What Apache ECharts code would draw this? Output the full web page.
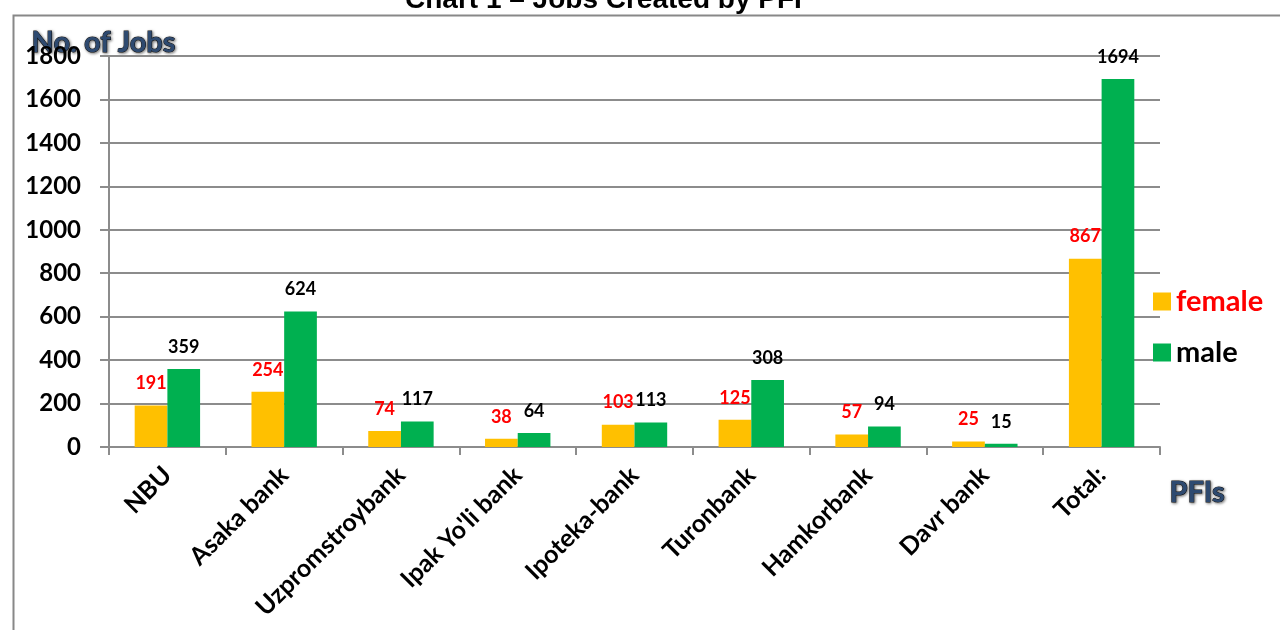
<!DOCTYPE html>
<html>
<head>
<meta charset="utf-8">
<script src="https://cdn.jsdelivr.net/npm/echarts@6/dist/echarts.min.js"></script>
<style>
  html, body { margin: 0; padding: 0; background: #fff; }
  #chart { width: 1280px; height: 630px; }
</style>
</head>
<body>
<div id="chart"></div>
<script>
// data
var categories = ["NBU", "Asaka bank", "Uzpromstroybank", "Ipak Yo'li bank", "Ipoteka-bank", "Turonbank", "Hamkorbank", "Davr bank", "Total:"];
var female = [191, 254, 74, 38, 103, 125, 57, 25, 867];
var male = [359, 624, 117, 64, 113, 308, 94, 15, 1694];

var myChart = echarts.init(document.getElementById("chart"));
var font = "Lato, 'Open Sans', sans-serif";

var option = {
    animation: false,
    title: {
        text: "Chart 1 – Jobs Created by PFI",
        left: 400,
        top: -19,
        textStyle: { fontFamily: "'Liberation Sans', Arial", fontSize: 28, fontWeight: 'bold', color: '#000' }
    },
    graphic: [
        {
            type: 'rect', left: 11, top: 13, z: -1,
            shape: { width: 1300, height: 640 },
            style: { fill: 'none', stroke: '#888', lineWidth: 2 }
        },
        {
            type: 'text', left: 31, top: 28,
            style: {
                text: 'No. of Jobs', fontFamily: font, fontSize: 29, fontWeight: 'bold',
                fill: '#2E4A70', stroke: '#111', lineWidth: 1,
                textShadowColor: 'rgba(0,0,0,0.5)', textShadowBlur: 3, textShadowOffsetX: 1, textShadowOffsetY: 1
            }
        },
        {
            type: 'text', left: 1169, top: 478,
            style: {
                text: 'PFIs', fontFamily: font, fontSize: 29, fontWeight: 'bold',
                fill: '#2E4A70', stroke: '#111', lineWidth: 1,
                textShadowColor: 'rgba(0,0,0,0.5)', textShadowBlur: 3, textShadowOffsetX: 1, textShadowOffsetY: 1
            }
        }
    ],
    legend: {
        orient: 'vertical',
        left: 1148,
        top: 282,
        itemWidth: 18,
        itemHeight: 18,
        itemGap: 22,
        icon: 'rect',
        textStyle: { fontFamily: font, fontSize: 29, fontWeight: 'bold', color: '#000' },
        data: [
            { name: 'female', textStyle: { color: '#FF0000' } },
            { name: 'male' }
        ]
    },
    grid: { left: 109, right: 120, top: 56, bottom: 183, containLabel: false },
    xAxis: {
        type: 'category',
        data: categories,
        axisLine: { lineStyle: { color: '#8c8c8c', width: 2 } },
        axisTick: { show: true, length: 8, lineStyle: { color: '#8c8c8c', width: 2 } },
        axisLabel: {
            rotate: 45, margin: 24, interval: 0,
            fontFamily: font, fontSize: 25, fontWeight: 'bold', color: '#000'
        }
    },
    yAxis: {
        type: 'value',
        min: 0, max: 1800, interval: 200,
        axisLine: { show: true, lineStyle: { color: '#8c8c8c', width: 2 } },
        axisTick: { show: true, length: 9, lineStyle: { color: '#8c8c8c', width: 2 } },
        splitLine: { lineStyle: { color: '#8c8c8c', width: 2 } },
        axisLabel: {
            margin: 28, fontFamily: font, fontSize: 24, fontWeight: 'bold', color: '#000',
            formatter: function (v) { return String(v); }
        }
    },
    series: [
        {
            name: 'female', type: 'bar', data: female,
            barGap: '0%', barCategoryGap: '44%',
            itemStyle: { color: '#FFC000' },
            label: { show: true, position: 'top', distance: 13, fontFamily: font, fontSize: 18, fontWeight: 'bold', color: '#FF0000' }
        },
        {
            name: 'male', type: 'bar', data: male,
            itemStyle: { color: '#00B050' },
            label: { show: true, position: 'top', distance: 13, fontFamily: font, fontSize: 18, fontWeight: 'bold', color: '#000' }
        }
    ]
};
myChart.setOption(option);
</script>
</body>
</html>
